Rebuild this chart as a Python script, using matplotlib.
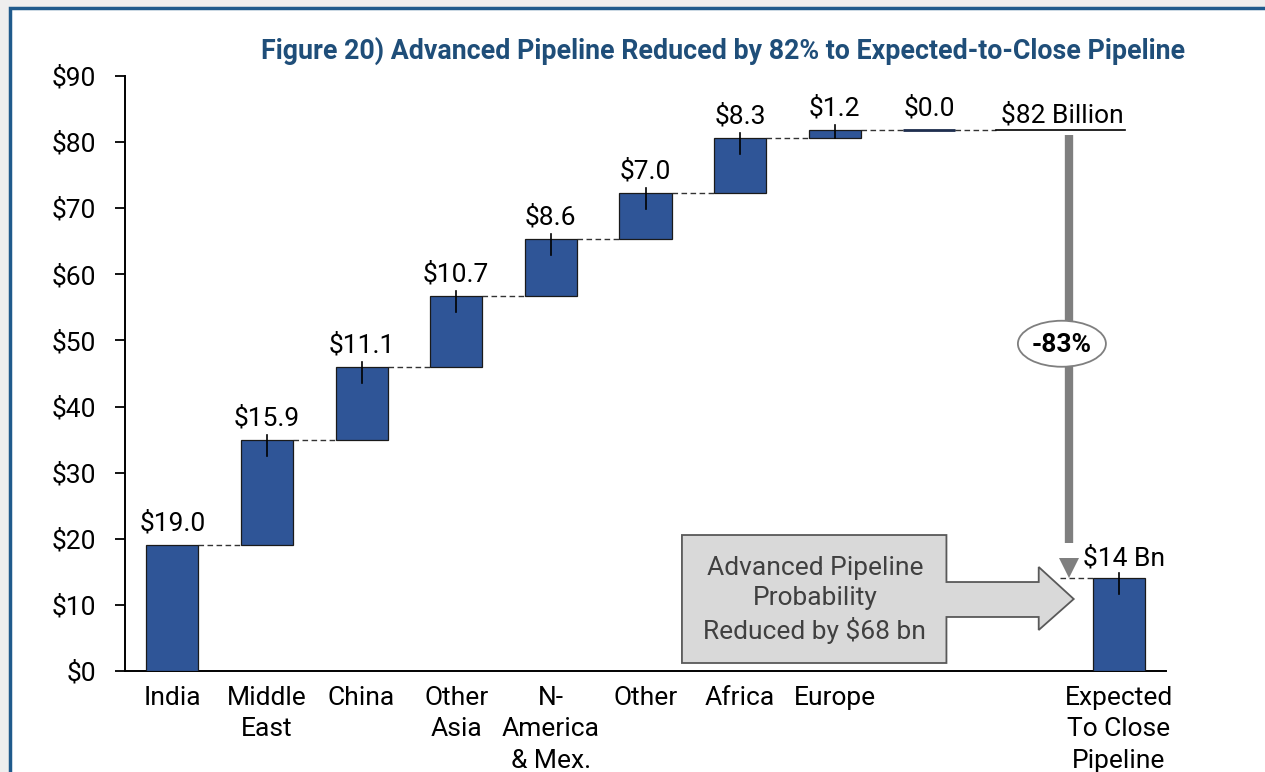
import matplotlib
matplotlib.use("Agg")

import matplotlib.pyplot as plt
from matplotlib import rcParams
from matplotlib.patches import Rectangle, Ellipse, Polygon

# data
regions = ["India", "Middle\nEast", "China", "Other\nAsia", "N-\nAmerica\n& Mex.",
           "Other", "Africa", "Europe", ""]
values = [19.0, 15.9, 11.1, 10.7, 8.6, 7.0, 8.3, 1.2, 0.0]
expected_label = "Expected\nTo Close\nPipeline"
expected_value = 14.0
yticks = [0, 10, 20, 30, 40, 50, 60, 70, 80, 90]

BLUE = "#2f5597"
NAVY = "#1f4e79"
GREY = "#7f7f7f"
FS = 19

rcParams.update({
    "font.family": ["Roboto", "DejaVu Sans"],
    "font.size": FS,
    "text.parse_math": False,
    "axes.linewidth": 1.4,
})

fig = plt.figure(figsize=(12.65, 7.72), dpi=100)
W, H = 1265, 772

# screenshot frame
fig.patches.append(Rectangle((0, 0), 1, 1, transform=fig.transFigure,
                             facecolor="#eeeeee", edgecolor="none", zorder=-10))
fig.patches.append(Rectangle((10 / W, -0.05), 1.1, 1 - 8 / H + 0.05,
                             transform=fig.transFigure, facecolor="white",
                             edgecolor="#1f5a8c", linewidth=2.5, zorder=-9))

ax = fig.add_axes([125 / W, 1 - 671 / H, (1166 - 125) / W, (671 - 76) / H])
ax.patch.set_alpha(0)

# waterfall steps
bottoms = []
run = 0.0
for v in values:
    bottoms.append(run)
    run += v
total = run
xs = list(range(len(values)))
x_exp = 10
bw = 0.55

ax.bar(xs, values, bottom=bottoms, width=bw, color=BLUE, edgecolor="#1a1a1a",
       linewidth=0.9, zorder=3)
ax.bar(x_exp, expected_value, width=bw, color=BLUE, edgecolor="#1a1a1a",
       linewidth=0.9, zorder=3)
# zero step drawn as a dark line
ax.plot([xs[-1] - bw / 2, xs[-1] + bw / 2], [total, total], color="#1f2f4f",
        lw=2, zorder=4, solid_capstyle="butt")

# value labels + small markers
for x, v, b in zip(xs, values, bottoms):
    top = b + v
    ax.annotate(f"${v:.1f}", (x, top), xytext=(0, 22), textcoords="offset pixels",
                ha="center", va="center", fontsize=FS)
    if x > 0 and v > 0.5:
        ax.plot([x, x], [top + 0.8, max(top - 2.4, b)], color="black", lw=1.2, zorder=4)
ax.plot([x_exp, x_exp], [expected_value + 0.8, expected_value - 2.4], color="black",
        lw=1.2, zorder=4)

# connectors
dash = dict(color="#333333", lw=1.0, ls=(0, (4, 2.5)), zorder=2)
for i in range(len(values) - 1):
    top = bottoms[i] + values[i]
    ax.plot([xs[i] + bw / 2, xs[i + 1] - bw / 2], [top, top], **dash)
ax.plot([xs[-1] + bw / 2, 8.70], [total, total], **dash)

# total label, underlined
ax.plot([8.70, 10.07], [total, total], color="black", lw=1.2, zorder=4)
ax.text(9.40, total + 0.4, f"${total:.0f} Billion", ha="center", va="bottom", fontsize=FS)

# reduction arrow
xa = 9.48
ax.plot([xa, xa], [total - 0.7, 19.4], color=GREY, lw=6, solid_capstyle="butt", zorder=3)
ax.plot([xa], [15.6], marker="v", markersize=14, color=GREY, markeredgewidth=0, zorder=3)
ax.plot([xa - 0.1, x_exp - bw / 2], [expected_value, expected_value], **dash)
ax.add_patch(Ellipse((xa - 0.08, 49.5), 0.93, 6.96, facecolor="white", edgecolor=GREY,
                     linewidth=1.3, zorder=5))
pct = (1 - expected_value / total) * 100
ax.text(xa - 0.08, 49.3, f"-{pct:.0f}%", ha="center", va="center", fontsize=FS,
        fontweight="bold", zorder=6)
ax.text(9.62, 17.0, f"${expected_value:.0f} Bn", ha="left", va="center", fontsize=FS)

# grey block arrow
shape = [(5.385, 20.57), (8.18, 20.57), (8.18, 13.46), (9.155, 13.46), (9.155, 15.73),
         (9.525, 10.89), (9.155, 6.2), (9.155, 8.17), (8.18, 8.17), (8.18, 1.21),
         (5.385, 1.21)]
ax.add_patch(Polygon(shape, closed=True, facecolor="#d9d9d9", edgecolor="#595959",
                     linewidth=1.3, zorder=5))
ax.text(6.79, 10.8, f"Advanced Pipeline\nProbability\nReduced by ${total - expected_value:.0f} bn",
        ha="center", va="center", fontsize=FS, color="#404040", linespacing=1.32, zorder=6)

# axes styling
ax.set_xlim(-0.5, 10.5)
ax.set_ylim(0, 90)
ax.set_yticks(yticks)
ax.set_yticklabels([f"${t}" for t in yticks])
ax.set_xticks(xs[:-1] + [x_exp])
ax.set_xticklabels(regions[:-1] + [expected_label], linespacing=1.38)
ax.tick_params(axis="x", length=0, pad=11, labelsize=FS)
ax.tick_params(axis="y", length=7, width=1.3, pad=14, labelsize=FS)
ax.spines["top"].set_visible(False)
ax.spines["right"].set_visible(False)

fig.text(723 / W, 1 - 51 / H,
         "Figure 20) Advanced Pipeline Reduced by 82% to Expected-to-Close Pipeline",
         ha="center", va="center", fontsize=19.3, fontweight="bold", color=NAVY)

fig.savefig("out.png", dpi=100)
